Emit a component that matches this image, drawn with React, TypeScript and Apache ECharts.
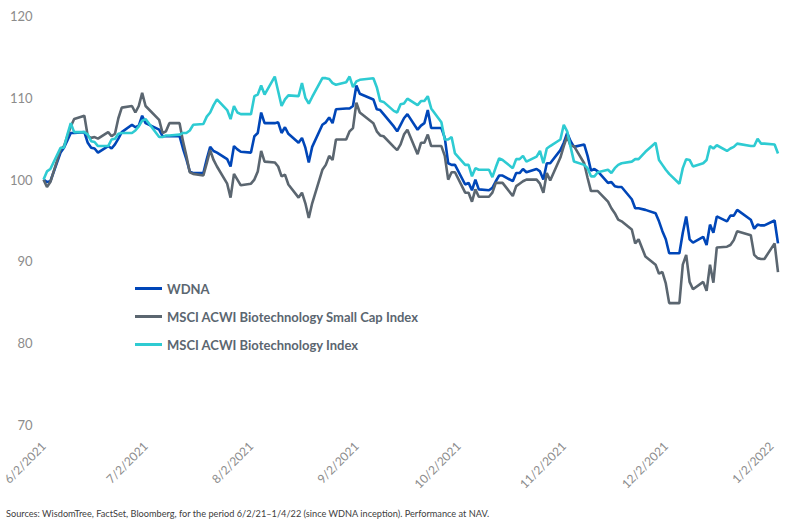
import React, { useEffect, useRef } from "react";
import * as echarts from "echarts";

const tradingDates: string[] = [
  "2021-06-02","2021-06-03","2021-06-04","2021-06-07","2021-06-08","2021-06-09","2021-06-10","2021-06-11",
  "2021-06-14","2021-06-15","2021-06-16","2021-06-17","2021-06-18","2021-06-21","2021-06-22","2021-06-23",
  "2021-06-24","2021-06-25","2021-06-28","2021-06-29","2021-06-30",
  "2021-07-01","2021-07-02","2021-07-06","2021-07-07","2021-07-08","2021-07-09","2021-07-12","2021-07-13",
  "2021-07-14","2021-07-15","2021-07-16","2021-07-19","2021-07-20","2021-07-21","2021-07-22","2021-07-23",
  "2021-07-26","2021-07-27","2021-07-28","2021-07-29","2021-07-30",
  "2021-08-02","2021-08-03","2021-08-04","2021-08-05","2021-08-06","2021-08-09","2021-08-10","2021-08-11",
  "2021-08-12","2021-08-13","2021-08-16","2021-08-17","2021-08-18","2021-08-19","2021-08-20","2021-08-23",
  "2021-08-24","2021-08-25","2021-08-26","2021-08-27","2021-08-30","2021-08-31",
  "2021-09-01","2021-09-02","2021-09-03","2021-09-07","2021-09-08","2021-09-09","2021-09-10","2021-09-13",
  "2021-09-14","2021-09-15","2021-09-16","2021-09-17","2021-09-20","2021-09-21","2021-09-22","2021-09-23",
  "2021-09-24","2021-09-27","2021-09-28","2021-09-29","2021-09-30",
  "2021-10-01","2021-10-04","2021-10-05","2021-10-06","2021-10-07","2021-10-08","2021-10-11","2021-10-12",
  "2021-10-13","2021-10-14","2021-10-15","2021-10-18","2021-10-19","2021-10-20","2021-10-21","2021-10-22",
  "2021-10-25","2021-10-26","2021-10-27","2021-10-28","2021-10-29",
  "2021-11-01","2021-11-02","2021-11-03","2021-11-04","2021-11-05","2021-11-08","2021-11-09","2021-11-10",
  "2021-11-11","2021-11-12","2021-11-15","2021-11-16","2021-11-17","2021-11-18","2021-11-19","2021-11-22",
  "2021-11-23","2021-11-24","2021-11-26","2021-11-29","2021-11-30",
  "2021-12-01","2021-12-02","2021-12-03","2021-12-06","2021-12-07","2021-12-08","2021-12-09","2021-12-10",
  "2021-12-13","2021-12-14","2021-12-15","2021-12-16","2021-12-17","2021-12-20","2021-12-21","2021-12-22",
  "2021-12-23","2021-12-27","2021-12-28","2021-12-29","2021-12-30","2021-12-31",
  "2022-01-03","2022-01-04",
];

const wdna: number[] = [
  100,99.7,99.8,103.3,103.9,104.8,105.7,105.7,105.8,104.5,103.9,103.8,103.3,104.1,103.8,104.3,105.0,105.8,106.7,106.4,106.6,
  107.8,106.9,106.1,105.3,105.3,105.3,105.3,103.8,102.5,101.0,100.8,100.8,102.5,104.0,103.5,103.3,102.5,101.6,104.1,103.7,103.4,
  103.3,105.3,105.7,108.2,106.9,106.9,107.0,105.7,106.4,105.6,104.5,105.1,103.9,102.1,104.0,106.7,107.0,107.6,106.9,108.6,108.7,108.7,
  109.0,111.5,110.5,109.8,108.6,108.5,108.0,106.5,105.9,106.7,107.5,108.0,106.1,106.6,106.9,108.5,106.3,106.3,105.1,102.0,101.8,
  101.8,99.4,99.6,98.7,100.0,98.8,98.7,99.0,99.8,100.5,100.5,99.8,100.8,100.8,101.3,100.9,101.3,101.0,100.0,102.0,102.0,
  103.6,104.5,105.7,104.7,104.0,104.3,102.9,101.1,101.3,101.0,99.6,99.7,99.2,99.1,99.1,97.6,96.5,96.5,96.3,95.9,94.9,
  93.7,92.7,91.0,91.0,93.5,95.5,92.7,92.3,93.0,92.0,94.5,93.5,95.5,94.9,95.6,95.6,96.3,95.1,94.0,94.5,94.4,94.4,
  95.0,92.2,
];

const smallCap: number[] = [
  100,99.1,99.7,103.7,104.1,105.3,106.5,107.4,107.8,105.3,105.1,105.2,105.0,105.8,105.3,105.6,107.5,108.8,109.0,108.2,109.0,
  110.6,109.0,107.3,105.7,105.9,106.9,106.9,104.7,102.9,100.9,100.7,100.5,102.0,103.6,102.4,101.6,99.5,97.8,100.7,100.0,99.3,
  99.5,100.0,101.0,103.5,102.2,102.1,101.6,100.4,100.6,99.4,97.8,98.4,97.1,95.3,97.1,101.2,101.8,102.9,102.4,104.9,104.9,105.9,
  106.3,109.4,108.2,106.9,105.9,105.4,105.3,104.0,103.6,104.3,105.5,106.1,103.1,104.5,104.5,105.5,104.1,104.1,102.9,100.0,100.9,
  100.9,98.4,98.4,97.3,98.8,97.9,97.9,98.4,99.6,99.6,99.6,98.0,99.2,99.5,99.8,100.0,100.0,99.5,98.4,100.8,99.9,
  102.7,104.1,105.3,104.1,104.1,102.0,100.2,98.6,98.6,98.6,97.3,96.5,95.9,95.1,94.9,93.9,92.2,92.7,90.6,89.6,88.5,
  88.7,87.3,84.9,84.9,89.6,90.8,87.5,86.6,87.5,86.4,89.6,87.4,91.7,91.8,92.0,92.6,93.7,93.2,90.8,90.4,90.3,90.3,
  92.2,88.7,
];

const biotech: number[] = [
  100,101.0,101.3,103.9,103.9,105.5,106.9,105.8,105.8,105.5,104.7,104.6,104.1,104.1,104.9,105.0,105.6,105.7,105.7,106.0,106.5,
  107.2,107.4,105.2,105.2,105.4,105.4,105.5,105.7,105.7,106.0,106.7,106.8,107.7,108.2,109.1,109.8,108.5,107.4,109.0,108.2,108.0,
  108.0,110.2,110.4,111.5,110.4,112.6,110.8,109.0,109.8,110.3,110.2,111.8,110.0,109.3,110.1,112.4,112.4,112.3,111.8,111.6,111.9,112.6,
  111.3,112.0,112.2,112.4,111.3,109.6,109.5,108.4,108.2,109.2,109.3,109.9,109.1,109.6,109.6,110.2,108.7,107.0,104.9,104.9,105.2,
  103.2,101.8,101.8,100.4,101.4,101.2,101.2,100.3,101.5,102.6,102.4,101.4,102.5,102.5,102.9,102.2,102.8,103.5,102.0,103.8,104.1,
  104.9,106.7,105.9,104.0,102.2,101.8,101.4,100.4,100.4,100.9,101.2,100.8,101.4,101.8,102.0,102.2,102.5,102.5,103.4,104.5,102.4,
  101.8,101.2,100.7,99.5,101.4,102.5,102.4,101.6,102.0,102.4,104.1,103.8,104.2,103.5,103.8,104.0,104.4,104.1,104.1,105.0,104.4,104.4,
  104.3,103.2,
];

const seriesNames: string[] = [
  "WDNA",
  "MSCI ACWI Biotechnology Small Cap Index",
  "MSCI ACWI Biotechnology Index",
];

const tickDates: string[] = [
  "2021-06-02","2021-07-02","2021-08-02","2021-09-02","2021-10-02","2021-11-02","2021-12-02","2022-01-02",
];

const yTicks: number[] = [70, 80, 90, 100, 110, 120];

const footnote =
  "Sources: WisdomTree, FactSet, Bloomberg, for the period 6/2/21\u20131/4/22 (since WDNA inception). Performance at NAV.";

const parseLocal = (s: string): number => {
  const [y, m, d] = s.split("-").map(Number);
  return new Date(y, m - 1, d).getTime();
};

export default function App() {
  const ref = useRef<HTMLDivElement>(null);

  useEffect(() => {
    if (!ref.current) return;
    const chart = echarts.init(ref.current, undefined, { renderer: "svg" });
    const colors = ["#0046B8", "#5B6670", "#2ECBD2"];
    const allSeries = [wdna, smallCap, biotech];
    chart.setOption({
      animation: false,
      color: colors,
      grid: { left: 41.5, right: 12, top: 16, bottom: 101, containLabel: false },
      xAxis: {
        type: "value",
        min: parseLocal(tradingDates[0]),
        max: parseLocal(tradingDates[tradingDates.length - 1]),
        axisLine: { show: false },
        axisTick: { show: false },
        splitLine: { show: false },
        axisLabel: {
          customValues: tickDates.map(parseLocal),
          rotate: 45,
          margin: 19,
          color: "#8c8c8c",
          fontSize: 12,
          fontFamily: "Lato",
          hideOverlap: false,
          showMinLabel: true,
          showMaxLabel: true,
          formatter: (val: number) => {
            const dt = new Date(val);
            return `${dt.getMonth() + 1}/${dt.getDate()}/${dt.getFullYear()}`;
          },
        },
      },
      yAxis: {
        type: "value",
        min: yTicks[0],
        max: yTicks[yTicks.length - 1],
        interval: 10,
        axisLine: { show: false },
        axisTick: { show: false },
        splitLine: { show: false },
        axisLabel: { color: "#8c8c8c", fontSize: 13, fontFamily: "Lato", margin: 11 },
      },
      legend: {
        orient: "vertical",
        left: 130,
        top: 277,
        icon: "rect",
        itemWidth: 27,
        itemHeight: 3,
        itemGap: 15,
        textStyle: { color: "#5B6670", fontWeight: "bold", fontSize: 13, fontFamily: "Lato" },
        data: seriesNames,
      },
      series: seriesNames.map((name, i) => ({
        name,
        type: "line",
        data: tradingDates.map((d, j) => [parseLocal(d), allSeries[i][j]]),
        showSymbol: false,
        symbol: "none",
        lineStyle: { width: 2.6, color: colors[i] },
        itemStyle: { color: colors[i] },
      })),
      graphic: [
        {
          type: "text",
          left: 6,
          top: 509,
          style: {
            text: footnote,
            fill: "#404040",
            fontSize: 9.2,
            fontFamily: "Lato",
          },
        },
      ],
    });
    return () => chart.dispose();
  }, []);

  return (
    <div
      ref={ref}
      style={{ position: "absolute", left: 0, top: 0, width: 790, height: 526, background: "#fff" }}
    />
  );
}
